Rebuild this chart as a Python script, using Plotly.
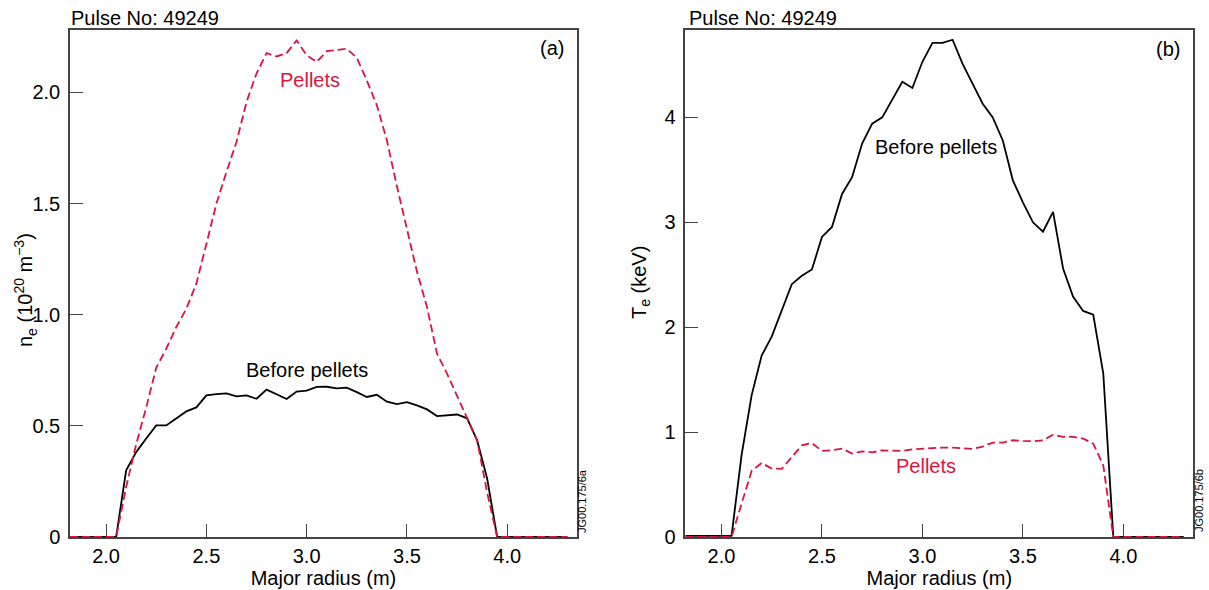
import plotly.graph_objects as go

# ---------------- data ----------------
radius = [1.82, 2.05, 2.10, 2.15, 2.20, 2.25, 2.30, 2.35, 2.40, 2.45, 2.50,
          2.55, 2.60, 2.65, 2.70, 2.75, 2.80, 2.85, 2.90, 2.95, 3.00,
          3.05, 3.10, 3.15, 3.20, 3.25, 3.30, 3.35, 3.40, 3.45, 3.50,
          3.55, 3.60, 3.65, 3.70, 3.75, 3.80, 3.85, 3.90, 3.95, 4.30]

ne_before = [0, 0, 0.30, 0.382, 0.443, 0.502, 0.502, 0.535, 0.565, 0.583, 0.637,
             0.643, 0.646, 0.633, 0.637, 0.622, 0.663, 0.642, 0.621, 0.654, 0.659,
             0.675, 0.676, 0.669, 0.672, 0.652, 0.630, 0.640, 0.609, 0.598, 0.607,
             0.592, 0.574, 0.544, 0.547, 0.551, 0.534, 0.435, 0.263, 0, 0]

ne_pellets = [0, 0, 0.225, 0.417, 0.583, 0.762, 0.847, 0.945, 1.027, 1.14, 1.318,
              1.50, 1.642, 1.777, 1.957, 2.085, 2.177, 2.162, 2.177, 2.234, 2.167,
              2.137, 2.186, 2.192, 2.197, 2.156, 2.054, 1.942, 1.785, 1.578, 1.386,
              1.194, 1.035, 0.825, 0.735, 0.637, 0.537, 0.435, 0.20, 0, 0]

te_before = [0.01, 0.01, 0.78, 1.35, 1.73, 1.91, 2.16, 2.41, 2.49, 2.55, 2.86,
             2.955, 3.27, 3.43, 3.75, 3.94, 4.00, 4.17, 4.34, 4.28, 4.53,
             4.71, 4.71, 4.74, 4.51, 4.32, 4.13, 4.00, 3.78, 3.40, 3.19,
             3.00, 2.91, 3.10, 2.56, 2.29, 2.155, 2.12, 1.56, 0, 0]

te_pellets = [0, 0, 0.318, 0.629, 0.706, 0.652, 0.65, 0.763, 0.874, 0.896, 0.82,
              0.826, 0.843, 0.795, 0.817, 0.807, 0.826, 0.823, 0.82, 0.836, 0.843,
              0.85, 0.852, 0.852, 0.846, 0.84, 0.862, 0.90, 0.90, 0.922, 0.916,
              0.913, 0.922, 0.976, 0.954, 0.954, 0.938, 0.89, 0.683, 0, 0]

x_tickvals = [2.0, 2.5, 3.0, 3.5, 4.0]
x_ticktext = ["2.0", "2.5", "3.0", "3.5", "4.0"]
ne_tickvals = [0, 0.5, 1.0, 1.5, 2.0]
ne_ticktext = ["0", "0.5", "1.0", "1.5", "2.0"]
te_tickvals = [0, 1, 2, 3, 4]
te_ticktext = ["0", "1", "2", "3", "4"]

# ---------------- style ----------------
W, H = 1209, 590
FONT = "Liberation Sans, Arial, sans-serif"
RED = "#dc143c"
BLACK = "#000000"
AXC = "#444444"


def px(x):
    return x / W


def py(y):
    return 1 - y / H


fig = go.Figure()

fig.add_trace(go.Scatter(x=radius, y=ne_before, mode="lines", xaxis="x", yaxis="y",
                         line=dict(color=BLACK, width=1.8), showlegend=False))
fig.add_trace(go.Scatter(x=radius, y=ne_pellets, mode="lines", xaxis="x", yaxis="y",
                         line=dict(color=RED, width=1.8, dash="8px,4px"), showlegend=False))
fig.add_trace(go.Scatter(x=radius, y=te_before, mode="lines", xaxis="x2", yaxis="y2",
                         line=dict(color=BLACK, width=1.8), showlegend=False))
fig.add_trace(go.Scatter(x=radius, y=te_pellets, mode="lines", xaxis="x2", yaxis="y2",
                         line=dict(color=RED, width=1.8, dash="8px,4px"), showlegend=False))

ydom = [py(537), py(30)]
common_x = dict(showgrid=False, zeroline=False, showline=True, linecolor=AXC, linewidth=1.5,
                mirror=True, ticks="inside", ticklen=13, tickwidth=1.3, tickcolor=AXC,
                tickvals=x_tickvals, ticktext=x_ticktext, range=[1.82, 4.348],
                tickfont=dict(size=20, color="black", family=FONT),
                title=dict(text="Major radius (m)", font=dict(size=20, color="black", family=FONT),
                           standoff=4),
                layer="below traces", automargin=False)
common_y = dict(showgrid=False, zeroline=False, showline=True, linecolor=AXC, linewidth=1.5,
                mirror=True, ticks="inside", ticklen=13, tickwidth=1.3, tickcolor=AXC,
                tickfont=dict(size=20, color="black", family=FONT), domain=ydom,
                layer="below traces", automargin=False, ticklabelstandoff=4)

fig.update_layout(
    width=W, height=H,
    margin=dict(l=0, r=0, t=0, b=0),
    paper_bgcolor="white", plot_bgcolor="white",
    font=dict(family=FONT, size=20, color="black"),
    xaxis=dict(common_x, domain=[px(70), px(577)], anchor="y"),
    yaxis=dict(common_y, anchor="x", range=[0, 2.281],
               tickvals=ne_tickvals, ticktext=ne_ticktext),
    xaxis2=dict(common_x, domain=[px(685.3), px(1193.3)], anchor="y2"),
    yaxis2=dict(common_y, anchor="x2", range=[0, 4.833],
                tickvals=te_tickvals, ticktext=te_ticktext),
)


def note(text, x, y, xref="paper", yref="paper", angle=0, size=20, color="black",
         xanchor="center", yanchor="middle"):
    return dict(text=text, x=x, y=y, xref=xref, yref=yref, textangle=angle, showarrow=False,
                xanchor=xanchor, yanchor=yanchor,
                font=dict(size=size, family=FONT, color=color))


ann = [
    # y-axis titles
    note("n<sub>e</sub> (10<sup>20</sup> m<sup>\u22123</sup>)", px(25), py(290), angle=-90),
    note("T<sub>e</sub> (keV)", px(640), py(283), angle=-90),
    # pulse titles
    note("Pulse No: 49249", px(69), py(17.5), xanchor="left"),
    note("Pulse No: 49249", px(687), py(17.5), xanchor="left"),
    # panel letters
    note("(a)", px(551.7), py(48)),
    note("(b)", px(1168), py(49)),
    # curve labels
    note("Pellets", 3.016, 2.054, xref="x", yref="y", color=RED),
    note("Before pellets", 3.0, 0.75, xref="x", yref="y"),
    note("Before pellets", 3.068, 3.718, xref="x2", yref="y2"),
    note("Pellets", 3.018, 0.674, xref="x2", yref="y2", color=RED),
    # figure codes
    note("JG00.175/6a", px(582), py(501), angle=-90, size=11),
    note("JG00.175/6b", px(1199), py(501), angle=-90, size=11),
]

fig.update_layout(annotations=ann)

fig.write_html("out.html")
